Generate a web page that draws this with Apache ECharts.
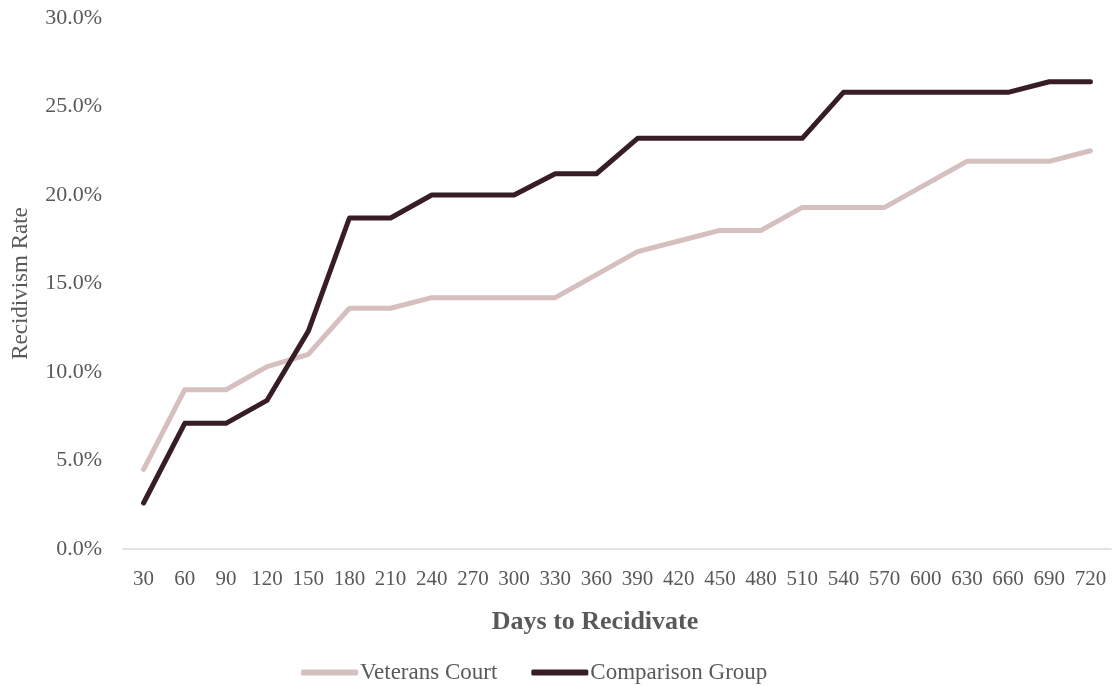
<!DOCTYPE html>
<html>
<head>
<meta charset="utf-8">
<script src="https://cdn.jsdelivr.net/npm/echarts@6/dist/echarts.min.js"></script>
<style>
  html, body { margin: 0; padding: 0; background: #ffffff; }
  #chart { width: 1112px; height: 686px; }
</style>
</head>
<body>
<div id="chart"></div>
<script>
// Days since release (x-axis categories)
const days = ['30','60','90','120','150','180','210','240','270','300','330','360',
              '390','420','450','480','510','540','570','600','630','660','690','720'];

// Cumulative recidivism rate, percent
const veteransCourt = [4.5, 9.0, 9.0, 10.3, 11.0, 13.6, 13.6, 14.2, 14.2, 14.2, 14.2, 15.5,
                       16.8, 17.4, 18.0, 18.0, 19.3, 19.3, 19.3, 20.6, 21.9, 21.9, 21.9, 22.5];
const comparisonGroup = [2.6, 7.1, 7.1, 8.4, 12.3, 18.7, 18.7, 20.0, 20.0, 20.0, 21.2, 21.2,
                         23.2, 23.2, 23.2, 23.2, 23.2, 25.8, 25.8, 25.8, 25.8, 25.8, 26.4, 26.4];

const FONT = '"Liberation Serif", "DejaVu Serif", serif';
const TEXT = '#595959';

const chart = echarts.init(document.getElementById('chart'), null, { renderer: 'canvas' });
chart.setOption({
  animation: false,
  textStyle: { fontFamily: FONT, color: TEXT },
  grid: { left: 123, top: 18, width: 988, height: 531, containLabel: false, outerBoundsMode: 'none' },
  legend: {
    top: 656,
    left: 296,
    itemWidth: 57,
    itemHeight: 6,
    itemGap: 34,
    icon: 'roundRect',
    textStyle: { fontFamily: FONT, fontSize: 23, color: TEXT, padding: [0, 0, 0, -3] },
    data: ['Veterans Court', 'Comparison Group']
  },
  xAxis: {
    type: 'category',
    data: days,
    boundaryGap: true,
    name: 'Days to Recidivate',
    nameLocation: 'middle',
    nameGap: 60,
    nameTextStyle: { fontFamily: FONT, fontSize: 26, fontWeight: 'bold', color: TEXT, padding: [0, 44, 0, 0] },
    axisLine: { show: true, lineStyle: { color: '#d9d9d9', width: 1.5 } },
    axisTick: { show: false },
    axisLabel: { fontFamily: FONT, fontSize: 21, color: TEXT, margin: 20, interval: 0 },
    splitLine: { show: false }
  },
  yAxis: {
    type: 'value',
    min: 0,
    max: 30,
    interval: 5,
    name: 'Recidivism Rate',
    nameLocation: 'middle',
    nameGap: 91,
    nameRotate: 90,
    nameTextStyle: { fontFamily: FONT, fontSize: 23, color: TEXT },
    axisLine: { show: false },
    axisTick: { show: false },
    splitLine: { show: false },
    axisLabel: {
      fontFamily: FONT, fontSize: 22, color: TEXT, margin: 21,
      formatter: v => v.toFixed(1) + '%'
    }
  },
  series: [
    {
      name: 'Veterans Court',
      type: 'line',
      data: veteransCourt,
      symbol: 'none',
      itemStyle: { color: '#d5bfbf' },
      lineStyle: { color: '#d5bfbf', width: 5, cap: 'round', join: 'round' }
    },
    {
      name: 'Comparison Group',
      type: 'line',
      data: comparisonGroup,
      symbol: 'none',
      itemStyle: { color: '#371d24' },
      lineStyle: { color: '#371d24', width: 5, cap: 'round', join: 'round' }
    }
  ]
});
</script>
</body>
</html>
